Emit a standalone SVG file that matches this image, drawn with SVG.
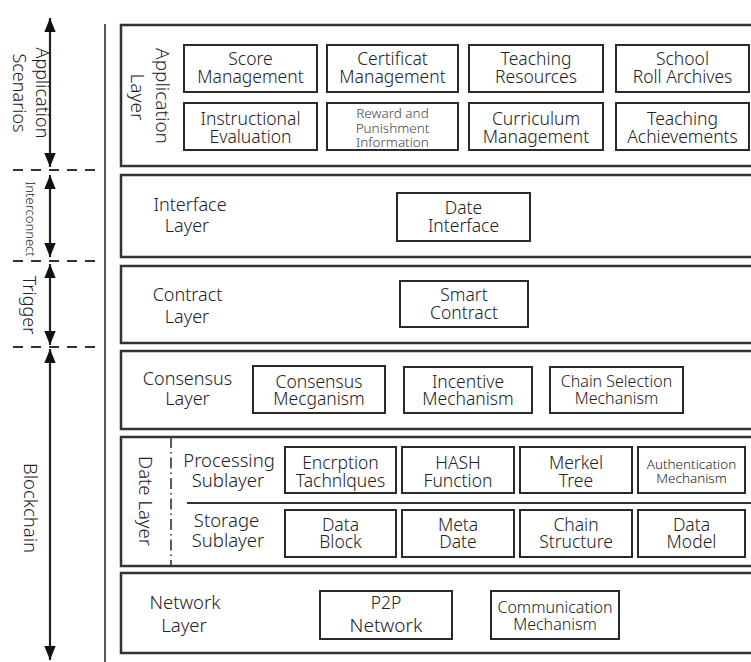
<svg xmlns="http://www.w3.org/2000/svg" width="751" height="662" viewBox="0 0 751 662">
<style>
text{font-family:"Noto Sans","Open Sans","Liberation Sans",sans-serif;font-weight:300;fill:#222;font-size:17.5px}
.c{text-anchor:middle}
.layer{fill:#fff;stroke:#333;stroke-width:2.5}
.box{fill:#fff;stroke:#2a2a2a;stroke-width:2}
.s14{font-size:13.5px}
.s16{font-size:16px}
.dash{stroke:#333;stroke-width:2;stroke-dasharray:10 8;fill:none}
.arr{stroke:#222;stroke-width:2.2;fill:none;marker-start:url(#ah);marker-end:url(#ah)}
</style>
<defs>
<marker id="ah" markerUnits="userSpaceOnUse" markerWidth="14" markerHeight="18" refX="16" refY="6.5" orient="auto-start-reverse" viewBox="0 0 16 13">
<path d="M0,0 L16,6.5 L0,13 Z" fill="#111"/>
</marker>
</defs>
<rect width="751" height="662" fill="#fff"/>

<g id="connectors">
<line class="dash" x1="13" y1="170" x2="101" y2="170"/>
<line class="dash" x1="13" y1="261" x2="101" y2="261"/>
<line class="dash" x1="13" y1="347" x2="101" y2="347"/>
<line x1="105" y1="24" x2="105" y2="662" stroke="#555" stroke-width="2"/>
<line class="arr" x1="50" y1="18" x2="50" y2="167"/>
<line class="arr" x1="50" y1="175" x2="50" y2="257"/>
<line class="arr" x1="50" y1="264" x2="50" y2="345"/>
<line class="arr" x1="50" y1="349" x2="50" y2="660"/>
</g>

<g id="side-labels">
<text class="c" transform="translate(42,93) rotate(90)" y="6" style="font-size:18px">Application</text>
<text class="c" transform="translate(19,93) rotate(90)" y="6" style="font-size:18px">Scenarios</text>
<text class="c" transform="translate(30,219) rotate(90)" y="4.5" style="font-size:13px">Interconnect</text>
<text class="c" transform="translate(29,305) rotate(90)" y="6" style="font-size:18px">Trigger</text>
<text class="c" transform="translate(30,508) rotate(90)" y="6" style="font-size:18.5px">Blockchain</text>
</g>

<g id="application-layer">
<rect class="layer" x="121" y="25" width="650" height="141"/>
<text class="c" transform="translate(162,96) rotate(90)" y="6" style="font-size:19px">Application</text>
<text class="c" transform="translate(137,97) rotate(90)" y="6" style="font-size:19px">Layer</text>
<g id="score"><rect class="box" x="184" y="45" width="133" height="47"/><text class="c" x="250.5" y="65">Score</text><text class="c" x="250.5" y="83">Management</text></g>
<g id="certificat"><rect class="box" x="327" y="45" width="131" height="47"/><text class="c" x="392.5" y="65">Certificat</text><text class="c" x="392.5" y="83">Management</text></g>
<g id="teaching-resources"><rect class="box" x="469" y="45" width="134" height="47"/><text class="c" x="536" y="65">Teaching</text><text class="c" x="536" y="83">Resources</text></g>
<g id="school-roll"><rect class="box" x="616" y="45" width="133" height="47"/><text class="c" x="682.5" y="65">School</text><text class="c" x="682.5" y="83">Roll Archives</text></g>
<g id="instructional"><rect class="box" x="184" y="103" width="133" height="47"/><text class="c" x="250.5" y="125">Instructional</text><text class="c" x="250.5" y="142.5">Evaluation</text></g>
<g id="reward"><rect class="box" x="327" y="103" width="131" height="47"/><text class="c s14" x="392.5" y="118" style="fill:#444">Reward and</text><text class="c s14" x="392.5" y="132.5" style="fill:#444">Punishment</text><text class="c s14" x="392.5" y="147" style="fill:#444">Information</text></g>
<g id="curriculum"><rect class="box" x="469" y="103" width="134" height="47"/><text class="c" x="536" y="125">Curriculum</text><text class="c" x="536" y="142.5">Management</text></g>
<g id="teaching-achievements"><rect class="box" x="616" y="103" width="133" height="47"/><text class="c" x="682.5" y="125">Teaching</text><text class="c" x="682.5" y="142.5">Achievements</text></g>
</g>

<g id="interface-layer">
<rect class="layer" x="121" y="175" width="650" height="82"/>
<text class="c" x="190" y="211" style="font-size:18px">Interface</text><text class="c" x="187" y="232" style="font-size:18px">Layer</text>
<g id="date-interface"><rect class="box" x="397" y="193" width="133" height="48"/><text class="c" x="463.5" y="214">Date</text><text class="c" x="463.5" y="232">Interface</text></g>
</g>

<g id="contract-layer">
<rect class="layer" x="121" y="266" width="650" height="77"/>
<text class="c" x="187.5" y="301" style="font-size:18px">Contract</text><text class="c" x="187" y="323" style="font-size:18px">Layer</text>
<g id="smart-contract"><rect class="box" x="400" y="281" width="128" height="46"/><text class="c" x="464" y="301">Smart</text><text class="c" x="464" y="319">Contract</text></g>
</g>

<g id="consensus-layer">
<rect class="layer" x="121" y="351" width="650" height="78"/>
<text class="c" x="187.5" y="385" style="font-size:18px">Consensus</text><text class="c" x="187.5" y="405" style="font-size:18px">Layer</text>
<g id="consensus-mech"><rect class="box" x="253" y="366" width="132" height="47"/><text class="c" x="319" y="387.5">Consensus</text><text class="c" x="319" y="405">Mecganism</text></g>
<g id="incentive"><rect class="box" x="404" y="367" width="128" height="46"/><text class="c" x="468" y="387.5">Incentive</text><text class="c" x="468" y="405">Mechanism</text></g>
<g id="chain-selection"><rect class="box" x="550" y="367" width="133" height="46"/><text class="c s16" x="616.5" y="387">Chain Selection</text><text class="c s16" x="616.5" y="404">Mechanism</text></g>
</g>

<g id="date-layer">
<rect class="layer" x="121" y="437" width="650" height="129"/>
<line x1="171" y1="437" x2="171" y2="566" stroke="#333" stroke-width="1.6" stroke-dasharray="11 4 1.5 4"/>
<text class="c" transform="translate(145,501) rotate(90)" y="6" style="font-size:18.5px">Date Layer</text>
<line x1="187" y1="503" x2="771" y2="503" stroke="#333" stroke-width="2"/>
<text class="c" x="229" y="467" style="font-size:18.5px">Processing</text><text class="c" x="228" y="487" style="font-size:18.5px">Sublayer</text>
<text class="c" x="226.5" y="527" style="font-size:18.5px">Storage</text><text class="c" x="228" y="547" style="font-size:18.5px">Sublayer</text>
<g id="encryption"><rect class="box" x="285" y="447" width="111" height="46"/><text class="c" x="340.5" y="469">Encrption</text><text class="c" x="340.5" y="486.5">Tachnlques</text></g>
<g id="hash"><rect class="box" x="402" y="447" width="112" height="46"/><text class="c" x="458" y="468.5">HASH</text><text class="c" x="458" y="486.5">Function</text></g>
<g id="merkel"><rect class="box" x="520" y="447" width="112" height="46"/><text class="c" x="576" y="468.5">Merkel</text><text class="c" x="576" y="486.5">Tree</text></g>
<g id="authentication"><rect class="box" x="638" y="447" width="107" height="46"/><text class="c s14" x="691.5" y="469">Authentication</text><text class="c s14" x="691.5" y="483">Mechanism</text></g>
<g id="data-block"><rect class="box" x="285" y="510" width="111" height="47"/><text class="c" x="340.5" y="530.5">Data</text><text class="c" x="340.5" y="548">Block</text></g>
<g id="meta-date"><rect class="box" x="402" y="510" width="112" height="47"/><text class="c" x="458" y="530.5">Meta</text><text class="c" x="458" y="548">Date</text></g>
<g id="chain-structure"><rect class="box" x="520" y="510" width="112" height="47"/><text class="c" x="576" y="530.5">Chain</text><text class="c" x="576" y="548">Structure</text></g>
<g id="data-model"><rect class="box" x="638" y="510" width="107" height="47"/><text class="c" x="691.5" y="530.5">Data</text><text class="c" x="691.5" y="548">Model</text></g>
</g>

<g id="network-layer">
<rect class="layer" x="121" y="573" width="650" height="80"/>
<text class="c" x="185" y="609" style="font-size:18.5px">Network</text><text class="c" x="184" y="632" style="font-size:18.5px">Layer</text>
<g id="p2p"><rect class="box" x="320" y="591" width="132" height="48"/><text class="c" x="386" y="609">P2P</text><text class="c" x="386" y="632" style="font-size:19px">Network</text></g>
<g id="communication"><rect class="box" x="491" y="591" width="128" height="48"/><text class="c s16" x="555" y="613">Communication</text><text class="c s16" x="555" y="630">Mechanism</text></g>
</g>
</svg>
